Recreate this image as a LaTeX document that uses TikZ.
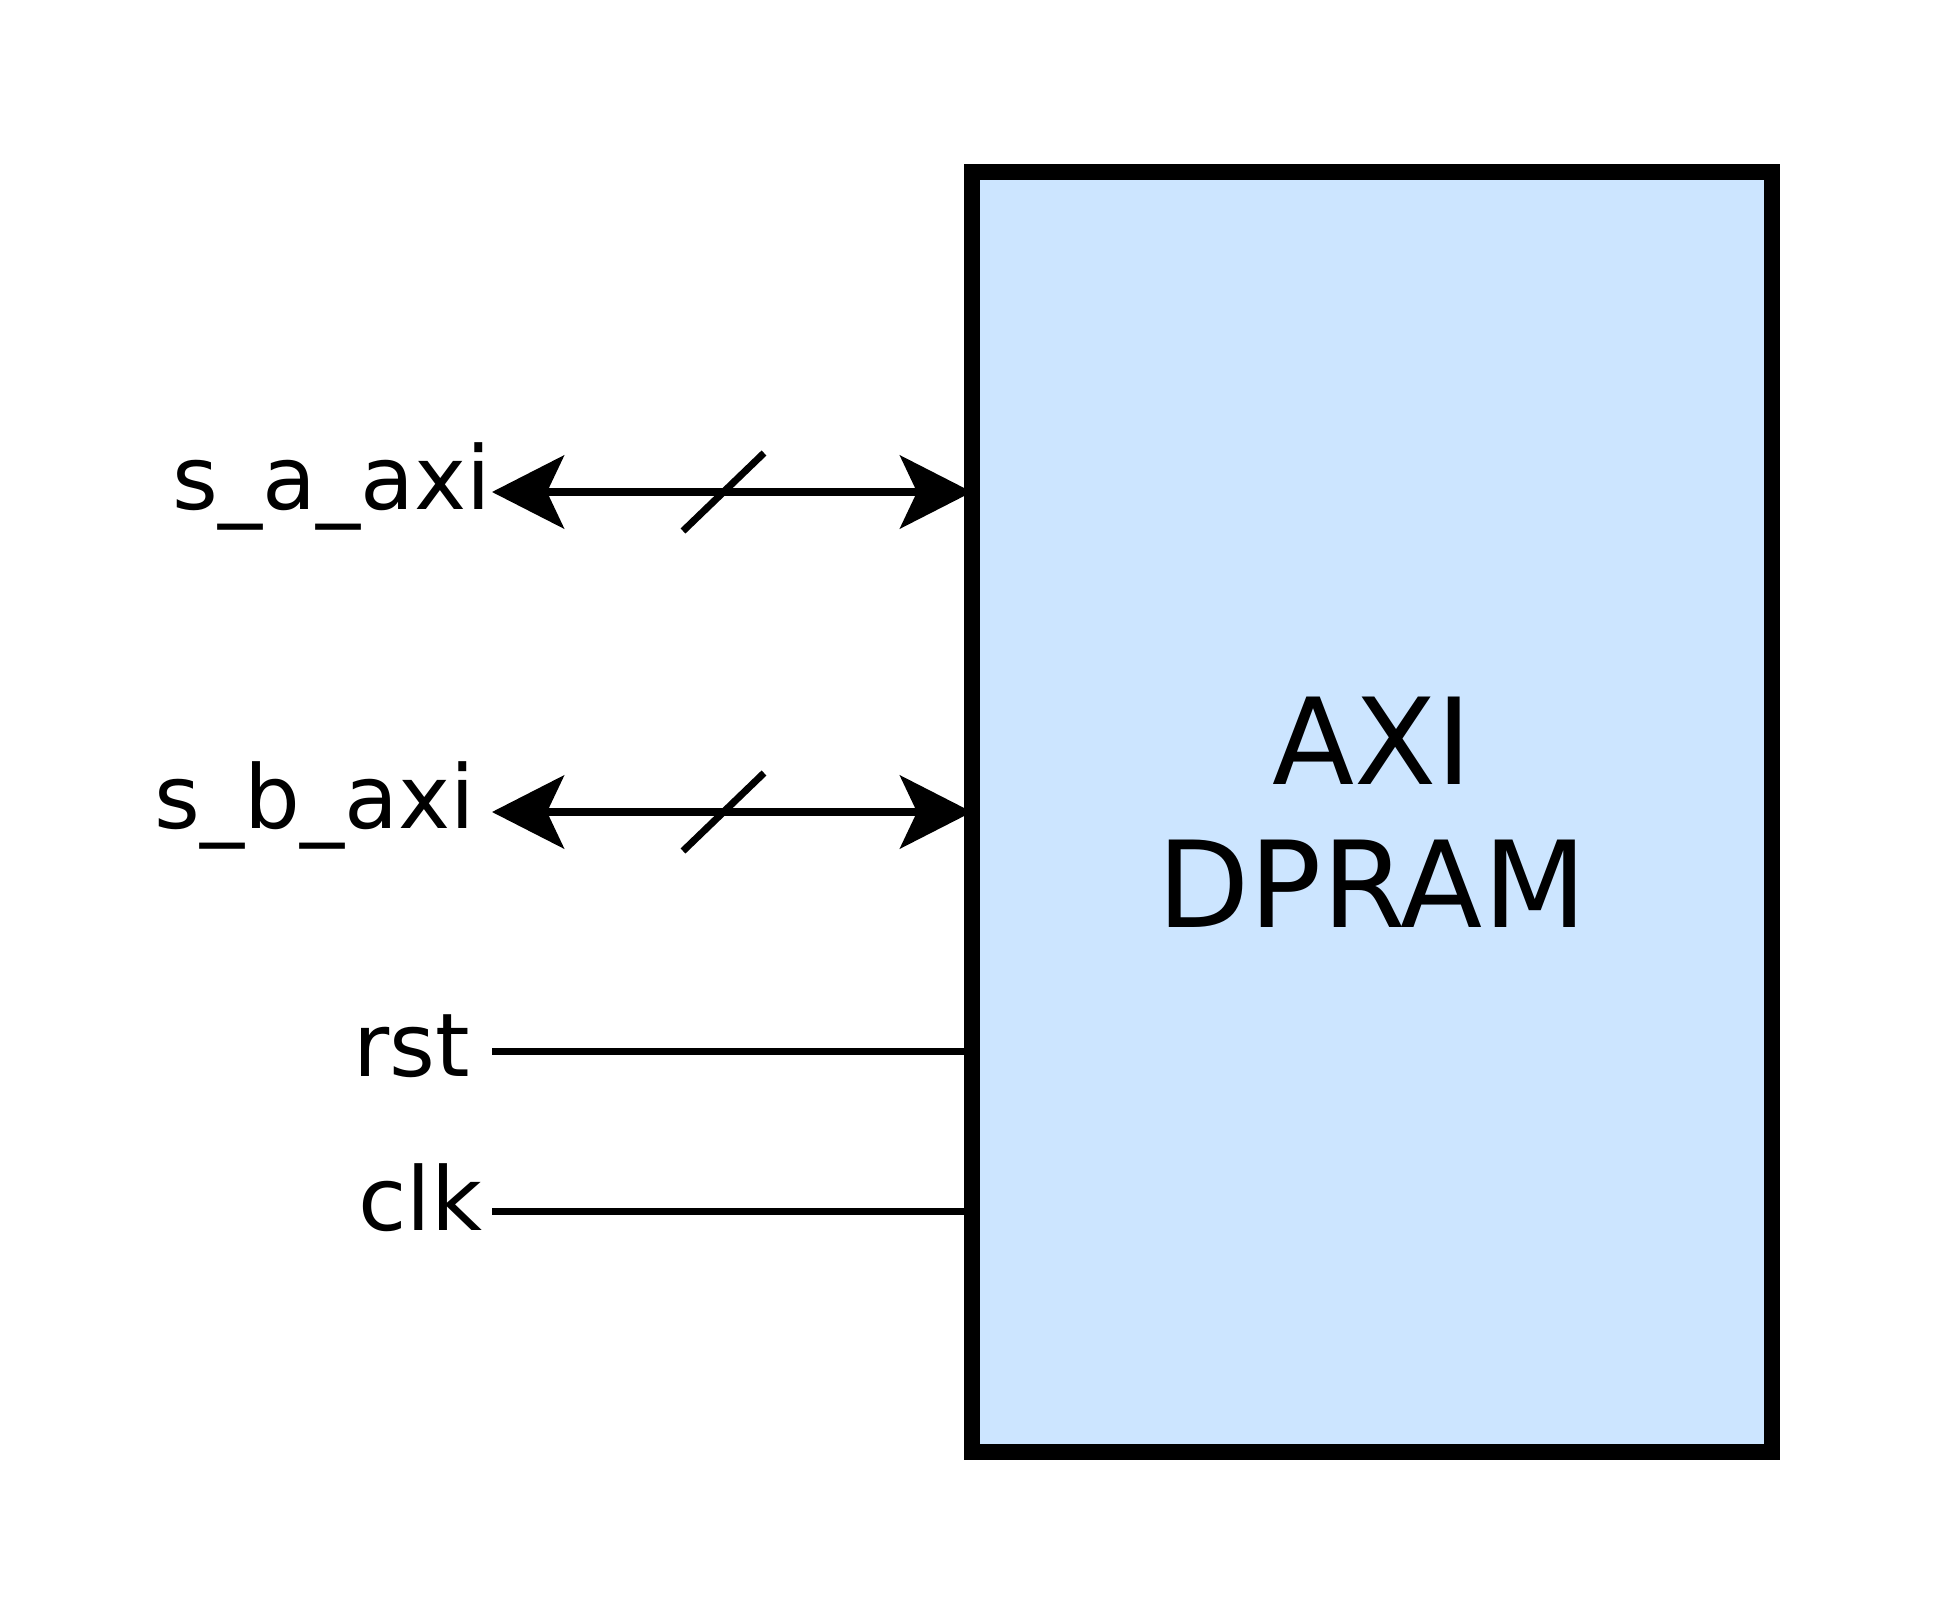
\documentclass[tikz,border=0pt]{standalone}
\usepackage{fontspec}
\setmainfont{DejaVu Sans}
\usetikzlibrary{arrows.meta,backgrounds}
\definecolor{boxfill}{HTML}{CCE5FF}
\begin{document}
\begin{tikzpicture}[x=0.5pt,y=-0.5pt,
  wire/.style={line width=3.7pt},
  bustip/.tip={Stealth[length=36pt,width=36.5pt,inset=8.5pt]},
  bus/.style={line width=3.7pt, bustip-bustip, shorten >=-4pt},
  lbl/.style={anchor=base west, inner sep=0pt, font=\fontsize{44pt}{53pt}\selectfont},
  slash/.style={line width=3.5pt},
  block/.style={draw, line width=8pt, fill=boxfill, minimum width=400pt, minimum height=640pt, inner sep=0pt, align=center, font=\fontsize{60pt}{71.3pt}\selectfont}]
\useasboundingbox (0,0) rectangle (1944,1616);
\node[block] (box) at (1372,812) {AXI\\DPRAM};
\coordinate (pa) at (492,492);
\coordinate (pb) at (492,812);
\coordinate (pr) at (492,1051.5);
\coordinate (pc) at (492,1211.3);
\begin{scope}[on background layer]
\draw[bus] (pa) -- (pa -| box.west);
\draw[bus] (pb) -- (pb -| box.west);
\draw[wire] (pr) -- (pr -| box.west);
\draw[wire] (pc) -- (pc -| box.west);
\end{scope}
\coordinate (sa1) at (683,531);
\coordinate (sa2) at (764,453);
\coordinate (sb1) at (683,851);
\coordinate (sb2) at (764,773);
\draw[slash] (sa1) -- (sa2);
\draw[slash] (sb1) -- (sb2);
\node[lbl] (la) at (172,509) {s\_a\_axi};
\node[lbl] (lb) at (154.5,828.3) {s\_b\_axi};
\node[lbl] (lr) at (353,1076) {rst};
\node[lbl] (lc) at (358,1230) {clk};
\end{tikzpicture}
\end{document}
